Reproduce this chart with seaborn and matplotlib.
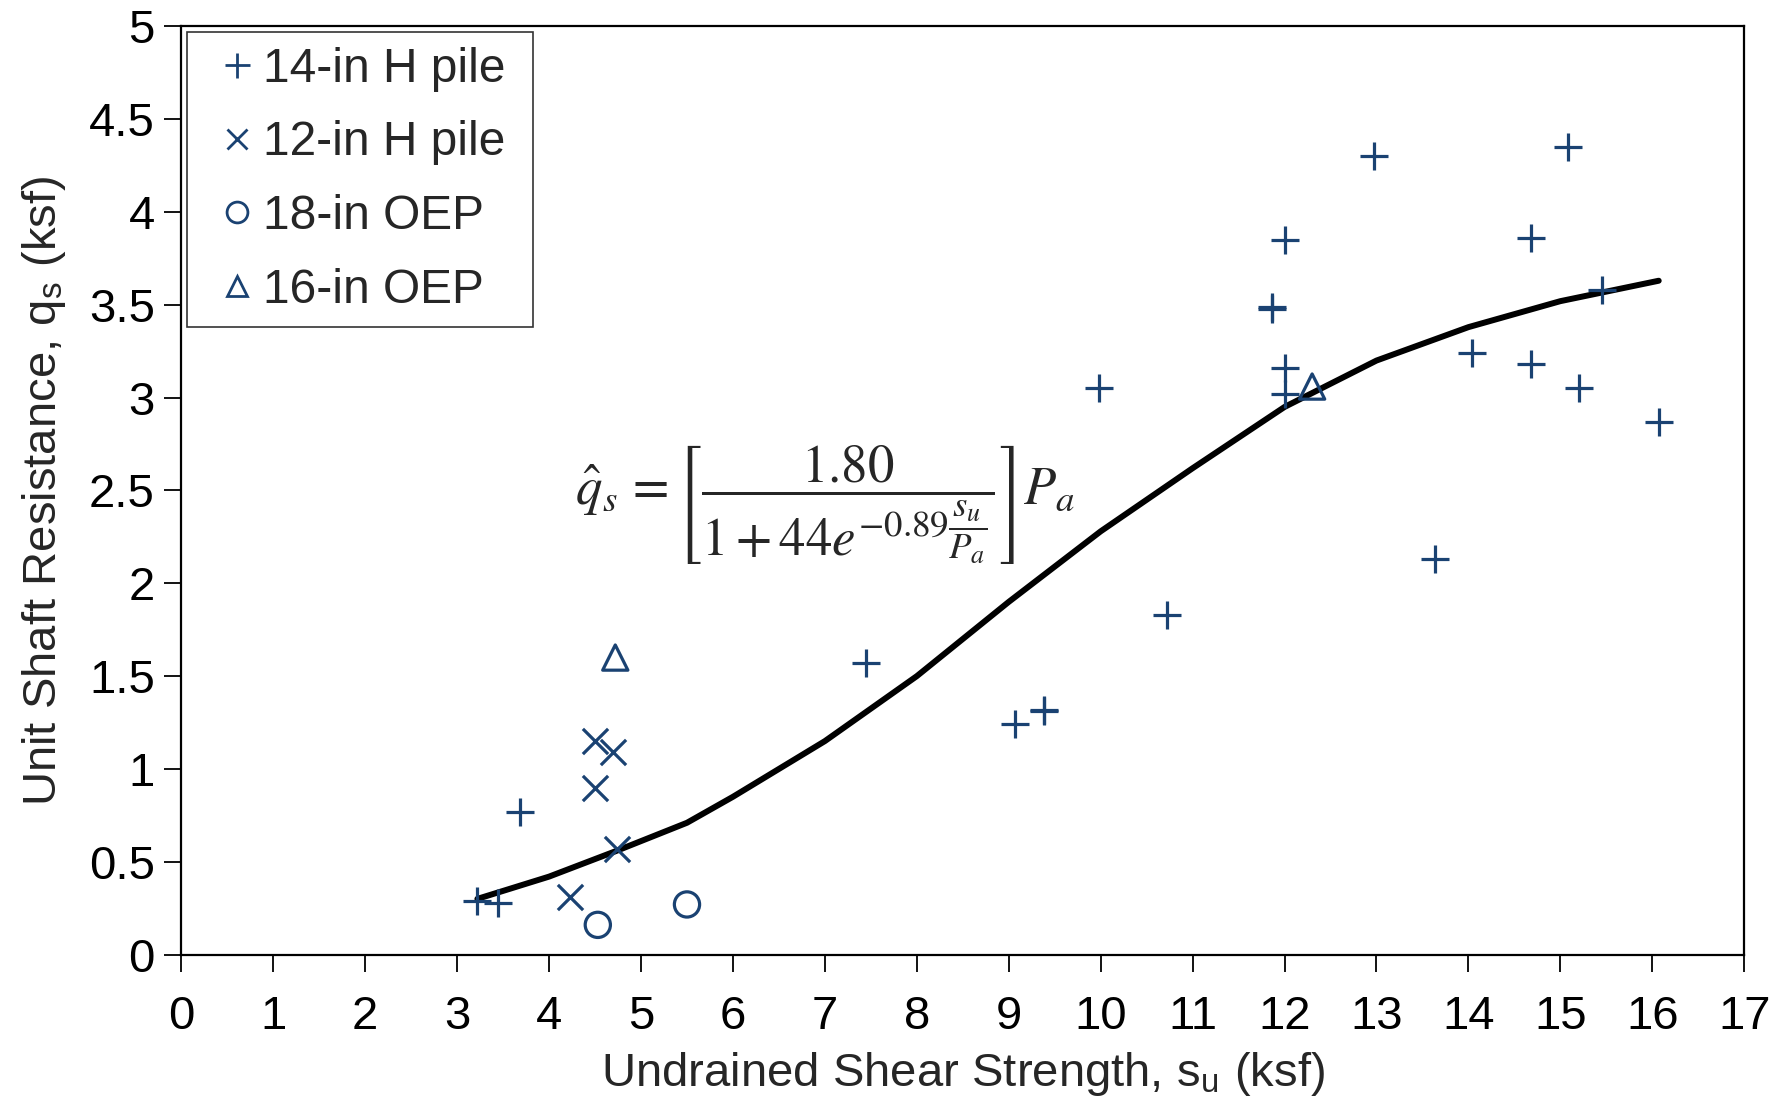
import numpy as np
import pandas as pd
import seaborn as sns
import matplotlib
matplotlib.use("Agg")
import matplotlib.pyplot as plt
from matplotlib.lines import Line2D

# ---- data ----
h14_su = [3.22, 3.44, 3.68, 7.45, 9.07, 9.38, 9.38, 9.98, 10.72, 11.86, 11.86, 12.0, 12.0,
          12.0, 12.97, 13.64, 14.04, 14.68, 14.68, 15.08, 15.2, 15.45, 16.07]
h14_qs = [0.29, 0.28, 0.77, 1.57, 1.24, 1.31, 1.32, 3.05, 1.83, 3.48, 3.49, 3.85, 3.16,
          3.02, 4.30, 2.13, 3.24, 3.86, 3.18, 4.35, 3.05, 3.58, 2.87]
h12_su = [4.50, 4.69, 4.50, 4.74, 4.23]
h12_qs = [1.15, 1.09, 0.90, 0.57, 0.31]
oep18_su = [4.53, 5.50]
oep18_qs = [0.16, 0.27]
oep16_su = [4.72, 12.30]
oep16_qs = [1.60, 3.06]
fit_su = [3.22, 4.0, 4.74, 5.5, 6.0, 7.0, 8.0, 9.0, 10.0, 11.0, 12.0, 13.0, 14.0, 15.0, 16.07]
fit_qs = [0.30, 0.42, 0.56, 0.71, 0.85, 1.15, 1.50, 1.90, 2.28, 2.62, 2.95, 3.20, 3.38, 3.52, 3.63]

series_names = ["14-in H pile", "12-in H pile", "18-in OEP", "16-in OEP"]
xticks = list(range(0, 18))
yticks = [0, 0.5, 1, 1.5, 2, 2.5, 3, 3.5, 4, 4.5, 5]
ytick_labels = ["0", "0.5", "1", "1.5", "2", "2.5", "3", "3.5", "4", "4.5", "5"]

sns.set_theme(style="white")
plt.rcParams['font.family'] = ['Liberation Sans', 'DejaVu Sans']
plt.rcParams['mathtext.fontset'] = 'stix'

C = "#1A4272"
fig = plt.figure(figsize=(17.78, 11.01), dpi=100)
ax = fig.add_axes([0.102, 0.133, 0.879, 0.843])

df14 = pd.DataFrame({"su": h14_su, "qs": h14_qs})
df12 = pd.DataFrame({"su": h12_su, "qs": h12_qs})
df18 = pd.DataFrame({"su": oep18_su, "qs": oep18_qs})
df16 = pd.DataFrame({"su": oep16_su, "qs": oep16_qs})
dfit = pd.DataFrame({"su": fit_su, "qs": fit_qs})

sns.lineplot(data=dfit, x="su", y="qs", ax=ax, color="black", linewidth=4.3,
             sort=True, estimator=None, zorder=2)
sns.scatterplot(data=df14, x="su", y="qs", ax=ax, marker="+", s=380, color=C,
                linewidth=2.3, zorder=3)
sns.scatterplot(data=df12, x="su", y="qs", ax=ax, marker="x", s=330, color=C,
                linewidth=2.3, zorder=3)
sns.scatterplot(data=df18, x="su", y="qs", ax=ax, marker="o", s=330, facecolor="none",
                edgecolor=C, linewidth=2.3, zorder=3)
sns.scatterplot(data=df16, x="su", y="qs", ax=ax, marker="^", s=330, facecolor="none",
                edgecolor=C, linewidth=2.3, zorder=3)

ax.set_xlim(0, 17)
ax.set_ylim(0, 5)
ax.set_xticks(xticks)
ax.set_xticklabels([str(t) for t in xticks])
ax.set_yticks(yticks)
ax.set_yticklabels(ytick_labels)
ax.tick_params(axis="both", which="major", labelsize=34, direction="out",
               length=12, width=1.3, color="black", bottom=True, left=True, colors="black")
ax.tick_params(axis="x", pad=17)
ax.tick_params(axis="y", pad=7)
for sp in ax.spines.values():
    sp.set_color("black")
    sp.set_linewidth(1.6)

ax.set_xlabel(r"Undrained Shear Strength, s$_\mathregular{u}$ (ksf)", fontsize=34, labelpad=8)
ax.set_ylabel(r"Unit Shaft Resistance, q$_\mathregular{s}$ (ksf)", fontsize=34, labelpad=15)

ax.text(7.0, 2.42,
        r"$\hat{q}_s\,=\left[\dfrac{1.80}{1+44e^{-0.89\dfrac{s_u}{P_a}}}\right]P_a$",
        fontsize=38, ha="center", va="center", zorder=4)

handles = [
    Line2D([], [], linestyle="none", marker="+", markersize=18, mew=2.0, color=C),
    Line2D([], [], linestyle="none", marker="x", markersize=15, mew=2.0, color=C),
    Line2D([], [], linestyle="none", marker="o", markersize=15, mew=2.0, mfc="none", mec=C),
    Line2D([], [], linestyle="none", marker="^", markersize=15, mew=2.0, mfc="none", mec=C),
]
leg = ax.legend(handles, [n + " " for n in series_names], loc="upper left", fontsize=34.5,
                frameon=True, fancybox=False, edgecolor="black", handlelength=1.48,
                handletextpad=-0.2, borderpad=0.3, labelspacing=0.6, borderaxespad=0.12,
                bbox_to_anchor=(0.0, 1.0))
leg.get_frame().set_linewidth(1.2)

fig.savefig("out.png", dpi=100, facecolor="white")
